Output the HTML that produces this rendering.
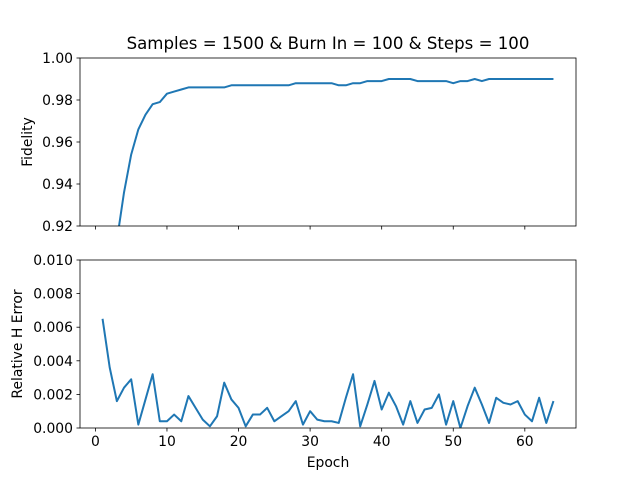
<!DOCTYPE html>
<html><head><meta charset="utf-8"><style>
body{margin:0;background:#fff;}
svg text{font-family:"DejaVu Sans","Liberation Sans",sans-serif;fill:#000;}
</style></head><body>
<svg id="chart" width="640" height="480" xmlns="http://www.w3.org/2000/svg">
<defs>
<clipPath id="c1"><rect x="80" y="58" width="496" height="168"/></clipPath>
<clipPath id="c2"><rect x="80" y="260" width="496" height="168"/></clipPath>
</defs>
<text x="328" y="49" font-size="16.6" text-anchor="middle">Samples = 1500 &amp; Burn In = 100 &amp; Steps = 100</text>
<g id="g"></g>
</svg>
<script>
const fidelity=[0.85,0.89,0.913,0.936,0.954,0.966,0.973,0.978,0.979,0.983,0.984,0.985,0.986,0.986,0.986,0.986,0.986,0.986,0.987,0.987,0.987,0.987,0.987,0.987,0.987,0.987,0.987,0.988,0.988,0.988,0.988,0.988,0.988,0.987,0.987,0.988,0.988,0.989,0.989,0.989,0.990,0.990,0.990,0.990,0.989,0.989,0.989,0.989,0.989,0.988,0.989,0.989,0.990,0.989,0.990,0.990,0.990,0.990,0.990,0.990,0.990,0.990,0.990,0.990];
const hError=[0.0065,0.0036,0.0016,0.0024,0.0029,0.0002,0.0017,0.0032,0.0004,0.0004,0.0008,0.0004,0.0019,0.0012,0.0005,0.0001,0.0007,0.0027,0.0017,0.0012,0.0001,0.0008,0.0008,0.0012,0.0004,0.0007,0.0010,0.0016,0.0002,0.0010,0.0005,0.0004,0.0004,0.0003,0.0018,0.0032,0.0001,0.0014,0.0028,0.0011,0.0021,0.0013,0.0002,0.0016,0.0003,0.0011,0.0012,0.0020,0.0002,0.0016,0.0000,0.0013,0.0024,0.0014,0.0003,0.0018,0.0015,0.0014,0.0016,0.0008,0.0004,0.0018,0.0003,0.0016];
const xTicks=[0,10,20,30,40,50,60];
const yTicksTop=[0.92,0.94,0.96,0.98,1.00];
const yTicksBot=[0.000,0.002,0.004,0.006,0.008,0.010];
const NS="http://www.w3.org/2000/svg";
const g=document.getElementById('g');
const X0=80,W=496,xmin=-2.15,xmax=67.15;
const FS=13.9;
const sx=v=>X0+(v-xmin)/(xmax-xmin)*W;
function mk(t,a,p){const e=document.createElementNS(NS,t);for(const k in a)e.setAttribute(k,a[k]);(p||g).appendChild(e);return e;}
function panel(top,ymin,ymax,ticks,fmt,vals,ylabel,clip,name,showX){
  const sy=v=>top+168-(v-ymin)/(ymax-ymin)*168;
  const ax=mk('g',{});
  
  
  const d=vals.map((v,i)=>(i?'L':'M')+sx(i+1).toFixed(2)+','+sy(v).toFixed(2)).join('');
  const ln=mk('path',{d:d,fill:'none',stroke:'#1f77b4','stroke-width':2,'stroke-linejoin':'round','clip-path':'url(#'+clip+')'},ax);
  
  
  mk('rect',{x:80,y:top,width:496,height:168,fill:'none',stroke:'#000','stroke-width':0.8},ax);
  xTicks.forEach(t=>{
    mk('line',{x1:sx(t),x2:sx(t),y1:top+168,y2:top+171.5,stroke:'#000','stroke-width':0.8},ax);
    if(showX){const tx=mk('text',{x:sx(t),y:top+168+18,'font-size':FS,'text-anchor':'middle'},ax);tx.textContent=t;
      
      }
  });
  ticks.forEach(t=>{
    const y=sy(t);
    mk('line',{x1:76.5,x2:80,y1:y,y2:y,stroke:'#000','stroke-width':0.8},ax);
    const tx=mk('text',{x:73,y:y+5,'font-size':FS,'text-anchor':'end'},ax);tx.textContent=fmt(t);
    
    
  });
  const yl=mk('text',{x:0,y:0,'font-size':FS,'text-anchor':'middle',transform:'translate('+(name==='fidelity'?32:22)+','+(top+84)+') rotate(-90)'},ax);
  yl.textContent=ylabel;
  
  
}
panel(58,0.92,1.00,yTicksTop,v=>v.toFixed(2),fidelity,'Fidelity','c1','fidelity',false);
panel(260,0,0.010,yTicksBot,v=>v.toFixed(3),hError,'Relative H Error','c2','h-error',true);
const xl=mk('text',{x:328,y:467,'font-size':FS,'text-anchor':'middle'});
xl.textContent='Epoch';


</script>
</body></html>
